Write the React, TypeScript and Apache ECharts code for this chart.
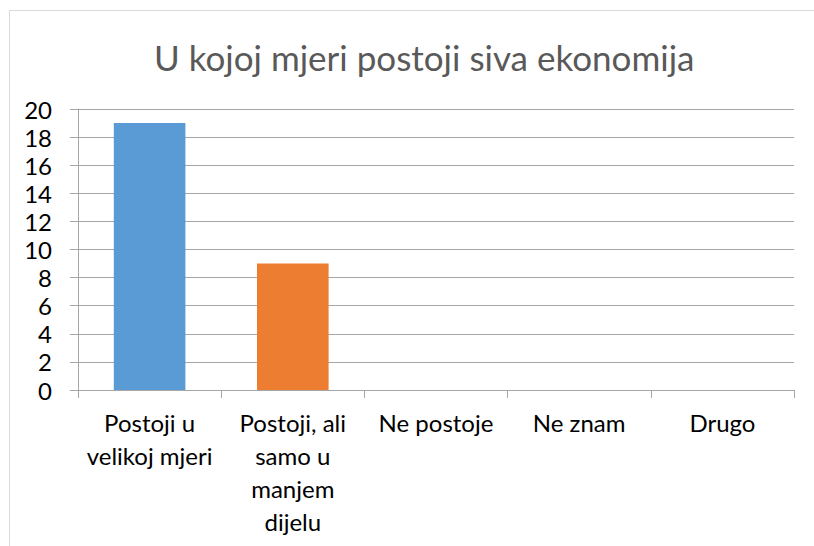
import React, { useEffect, useRef } from "react";
import * as echarts from "echarts";

const categories = [
  "Postoji u\nvelikoj mjeri",
  "Postoji, ali\nsamo u\nmanjem\ndijelu",
  "Ne postoje",
  "Ne znam",
  "Drugo",
];
const values = [19, 9, 0, 0, 0];
const barColors = ["#5b9bd5", "#ed7d31", "#a5a5a5", "#ffc000", "#4472c4"];
const titleText = "U kojoj mjeri postoji siva ekonomija";

export default function App() {
  const ref = useRef<HTMLDivElement>(null);
  useEffect(() => {
    const chart = echarts.init(ref.current!, null, { renderer: "svg" });
    chart.setOption({
      animation: false,
      backgroundColor: "#ffffff",
      graphic: [
        {
          type: "rect",
          shape: { x: 9.5, y: 10.5, width: 900, height: 700 },
          style: { fill: "none", stroke: "#d9d9d9", lineWidth: 1 },
          silent: true,
        },
      ],
      title: {
        text: titleText,
        left: 149,
        top: 34,
        textStyle: {
          fontFamily: "Lato",
          fontSize: 35,
          fontWeight: "normal",
          color: "#595959",
        },
      },
      grid: { left: 78, right: 20, top: 109, bottom: 156, containLabel: false },
      xAxis: {
        type: "category",
        data: categories,
        axisLine: { lineStyle: { color: "#a6a6a6", width: 1 } },
        axisTick: { show: true, length: 8, lineStyle: { color: "#a6a6a6" } },
        axisLabel: {
          interval: 0,
          color: "#000000",
          fontFamily: "Lato",
          fontSize: 24,
          lineHeight: 33,
          margin: 16,
        },
      },
      yAxis: {
        type: "value",
        min: 0,
        max: 20,
        interval: 2,
        axisLine: { show: true, lineStyle: { color: "#a6a6a6", width: 1 } },
        axisTick: { show: true, length: 8, lineStyle: { color: "#a6a6a6" } },
        splitLine: { lineStyle: { color: "#a6a6a6", width: 1 } },
        axisLabel: {
          color: "#000000",
          fontFamily: "Lato",
          fontSize: 24,
          margin: 26,
        },
      },
      series: [
        {
          type: "bar",
          data: values.map((v, i) => ({ value: v, itemStyle: { color: barColors[i] } })),
          barWidth: "50%",
        },
      ],
    });
    return () => chart.dispose();
  }, []);
  return (
    <div
      ref={ref}
      style={{ position: "fixed", left: 0, top: 0, width: 814, height: 546 }}
    />
  );
}
